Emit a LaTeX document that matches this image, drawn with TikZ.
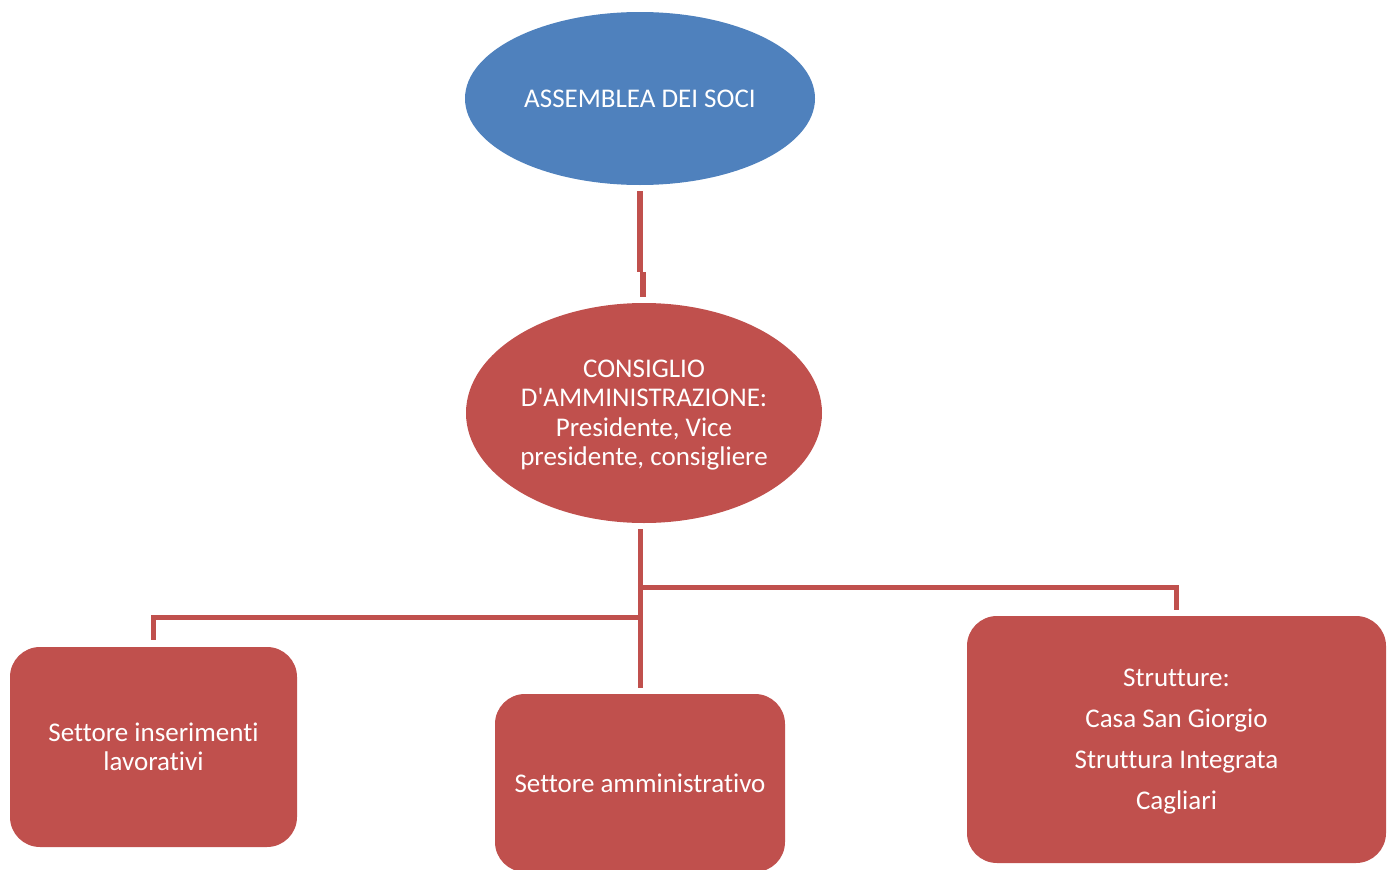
\documentclass[tikz,border=0pt]{standalone}
\usepackage{fontspec}
\setmainfont{Carlito}[Ligatures={NoCommon,TeXOff}]
\usetikzlibrary{shapes.geometric}
\definecolor{cblue}{HTML}{4F81BD}
\definecolor{cred}{HTML}{C0504D}
\tikzset{
  lbl/.style={text=white,font=\fontsize{27}{29.5}\selectfont,align=center,inner sep=0pt},
  oval/.style={ellipse,lbl},
  box/.style={lbl,fill=cred,rounded corners=30pt},
  conn/.style={draw=cred,line width=5pt}
}
\begin{document}
\begin{tikzpicture}[x=1pt,y=-1pt]
\useasboundingbox (0,0) rectangle (1393,870);
\node[oval,fill=cblue,minimum width=350pt,minimum height=173pt] (ass) at (640,98.5) {ASSEMBLEA DEI SOCI};
\node[oval,fill=cred,minimum width=356pt,minimum height=220pt] (cons) at (644,413) {};
\node[lbl] at (644,415) {CONSIGLIO\\D'AMMINISTRAZIONE:\\Presidente, Vice\\presidente, consigliere};
\node[box,minimum width=287pt,minimum height=200pt] (left) at (153.5,747) {Settore inserimenti\\lavorativi};
\node[box,minimum width=290pt,minimum height=178pt] (mid) at (640,783) {Settore amministrativo};
\node[box,minimum width=419pt,minimum height=247pt] (right) at (1176.5,739.5) {};
\node[lbl,font=\fontsize{27}{41}\selectfont] at (1176.5,742) {Strutture:\\Casa San Giorgio\\Struttura Integrata\\Cagliari};
\coordinate (k1) at (640,272);
\coordinate (k2) at (643,272);
\coordinate (j1) at (640,617);
\coordinate (j2) at (640,587);
\draw[conn,line width=6pt] ([yshift=-6pt]ass.south) -- (k1);
\draw[conn,line width=6pt] (k2) -- ([yshift=6pt]cons.north -| k2);
\draw[conn] (640,529) -- ([yshift=6pt]mid.north);
\draw[conn] (j1) -| ([yshift=7pt]left.north);
\draw[conn] (j2) -| ([yshift=6pt]right.north);
\end{tikzpicture}
\end{document}
